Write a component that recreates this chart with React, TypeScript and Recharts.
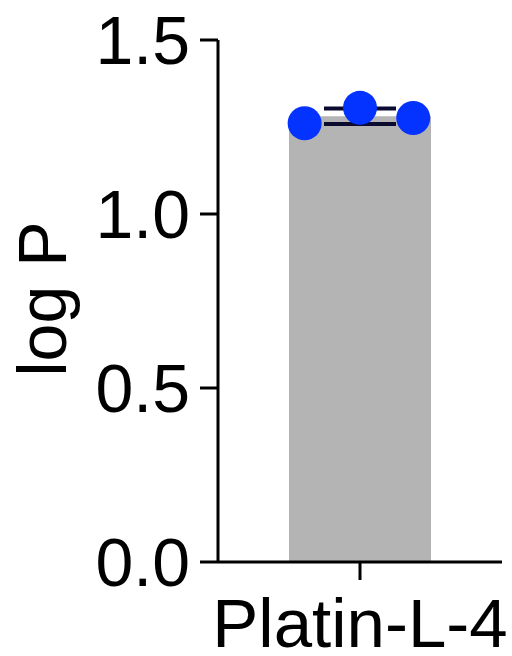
import {
  ComposedChart,
  Bar,
  ErrorBar,
  Scatter,
  XAxis,
  YAxis,
  Label,
} from 'recharts';

const CATEGORIES = ['Platin-L-4'];
const LOG_P_VALUES = [1.261, 1.305, 1.276];
const Y_TICKS = [0, 0.5, 1.0, 1.5];

const FONT = '"Liberation Sans", Arial, sans-serif';
const JITTER = [-0.39, 0, 0.375];

function mean(v: number[]) {
  return v.reduce((a, b) => a + b, 0) / v.length;
}

function sd(v: number[]) {
  const m = mean(v);
  return Math.sqrt(v.reduce((a, b) => a + (b - m) ** 2, 0) / (v.length - 1));
}

const barData = CATEGORIES.map((name) => ({
  name,
  mean: mean(LOG_P_VALUES),
  sd: sd(LOG_P_VALUES),
}));

const dotData = LOG_P_VALUES.map((value, i) => ({ jx: JITTER[i], value }));

function renderDot(props: { cx?: number; cy?: number }) {
  if (props.cx == null || props.cy == null) return <g />;
  return <circle cx={props.cx} cy={props.cy} r={17} fill="#0433ff" />;
}

function renderYLabel(props: { viewBox?: { x: number; y: number; height: number } }) {
  const vb = props.viewBox;
  if (!vb) return null;
  const cx = vb.x + 42;
  const cy = vb.y + vb.height / 2 - 2;
  return (
    <text
      x={cx}
      y={cy}
      transform={`rotate(-90 ${cx} ${cy})`}
      textAnchor="middle"
      dy="0.355em"
      fontSize={68}
      fontFamily={FONT}
      fill="#000"
    >
      log P
    </text>
  );
}

export default function App() {
  return (
    <div style={{ position: 'absolute', left: 0, top: 0, background: '#fff' }}>
      <ComposedChart
        width={512}
        height={656}
        data={barData}
        margin={{ top: 40, right: 10, bottom: 0, left: 0 }}
      >
        <XAxis
          dataKey="name"
          height={94}
          stroke="#000"
          strokeWidth={3}
          tickSize={18}
          tickMargin={18}
          tick={{ fill: '#000', fontSize: 69, fontFamily: FONT }}
        />
        <XAxis
          xAxisId="jitter"
          dataKey="jx"
          type="number"
          domain={[-1, 1]}
          allowDataOverflow
          hide
        />
        <YAxis
          width={218}
          domain={[0, 1.5]}
          ticks={Y_TICKS}
          tickFormatter={(v: number) => v.toFixed(1)}
          stroke="#000"
          strokeWidth={3}
          tickSize={18}
          tickMargin={10}
          tick={{ fill: '#000', fontSize: 68, fontFamily: FONT }}
        >
          <Label content={renderYLabel as any} />
        </YAxis>
        <Bar dataKey="mean" fill="#b5b4b5" barSize={142} isAnimationActive={false}>
          <ErrorBar dataKey="sd" width={36} strokeWidth={4} stroke="#0b0b30" direction="y" />
        </Bar>
        <Scatter
          data={dotData}
          xAxisId="jitter"
          dataKey="value"
          shape={renderDot as any}
          isAnimationActive={false}
        />
      </ComposedChart>
    </div>
  );
}
